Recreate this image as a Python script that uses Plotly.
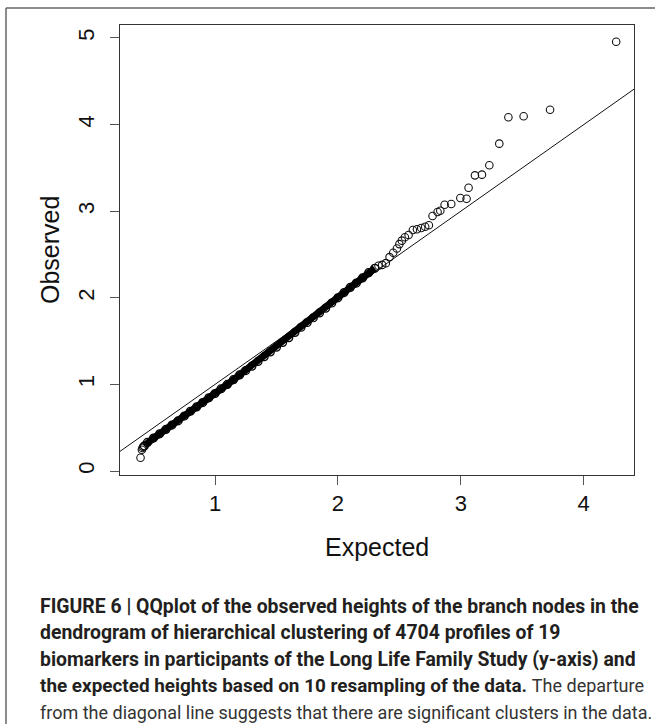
import plotly.graph_objects as go

# ---- data ----
# dense part of the Q-Q cloud (overlapping circles form a solid band)
band_expected = [0.425, 0.45, 0.50, 0.55, 0.60, 0.65, 0.70, 0.75, 0.80, 0.85, 0.90, 0.95,
                 1.00, 1.05, 1.10, 1.15, 1.20, 1.25, 1.30, 1.35, 1.40, 1.45, 1.50, 1.55,
                 1.60, 1.65, 1.70, 1.75, 1.80, 1.85, 1.90, 1.95, 2.00, 2.05, 2.10, 2.15,
                 2.20, 2.25, 2.30]
band_observed = [0.29, 0.33, 0.38, 0.43, 0.48, 0.53, 0.58, 0.635, 0.69, 0.74, 0.79, 0.845,
                 0.895, 0.95, 1.00, 1.055, 1.11, 1.16, 1.21, 1.265, 1.32, 1.375, 1.43, 1.485,
                 1.54, 1.60, 1.66, 1.715, 1.77, 1.825, 1.88, 1.94, 2.00, 2.06, 2.12, 2.17,
                 2.23, 2.29, 2.34]

# individually visible points
sparse_expected = [0.394, 0.405, 0.41, 0.415,
                   2.33, 2.36, 2.39, 2.42,
                   2.45, 2.48, 2.50, 2.52, 2.545, 2.575, 2.610, 2.643, 2.678, 2.710, 2.740,
                   2.770, 2.811, 2.833, 2.868, 2.922, 2.996, 3.047, 3.063, 3.115, 3.172,
                   3.232, 3.313, 3.387, 3.511, 3.726, 4.264]
sparse_observed = [0.154, 0.245, 0.265, 0.28,
                   2.37, 2.38, 2.40, 2.47,
                   2.52, 2.57, 2.62, 2.66, 2.70, 2.725, 2.783, 2.791, 2.806, 2.821, 2.837,
                   2.945, 2.991, 3.006, 3.075, 3.083, 3.152, 3.144, 3.271, 3.414, 3.422,
                   3.530, 3.780, 4.084, 4.096, 4.172, 4.957]

# reference diagonal (intercept 0, slope 1)
diag_x = [0, 5]
diag_y = [0, 5]

x_ticks = [1, 2, 3, 4]
y_ticks = [0, 1, 2, 3, 4, 5]

REG = "<span style='font-size:18px;color:#333'>{}</span>"
caption_lines = [
    "<b>FIGURE 6 | QQplot of the observed heights of the branch nodes in the</b>",
    "<b>dendrogram of hierarchical clustering of 4704 profiles of 19</b>",
    "<b>biomarkers in participants of the Long Life Family Study (y-axis) and</b>",
    "<b><span style='font-size:18.9px'>the expected heights based on 10 resampling of the data.</span></b> "
    + REG.format("The departure"),
    REG.format("from the diagonal line suggests that there are significant clusters in the data."),
]

FONT = "Liberation Sans, Arial, sans-serif"
CAP_FONT = "Roboto, Liberation Sans, sans-serif"

fig = go.Figure()
fig.add_trace(go.Scatter(x=diag_x, y=diag_y, mode="lines",
                         line=dict(color="#111", width=1), hoverinfo="skip"))
fig.add_trace(go.Scatter(x=band_expected, y=band_observed, mode="lines+markers",
                         line=dict(color="#000", width=7),
                         marker=dict(symbol="circle-open", size=8, color="#000",
                                     line=dict(width=1.2))))
fig.add_trace(go.Scatter(x=sparse_expected, y=sparse_observed, mode="markers",
                         marker=dict(symbol="circle-open", size=7.5, color="#111",
                                     line=dict(width=1.1)), cliponaxis=False))

L, R, T, B = 120, 21, 25, 249
W, H = 655, 724
pw, ph = W - L - R, H - T - B

def px_x(px):
    return (px - L) / pw

def px_y(py):
    return (H - B - py) / ph

axis_common = dict(showline=True, mirror=True, linecolor="#333", linewidth=1,
                   ticks="outside", ticklen=9, tickcolor="#555", tickwidth=1,
                   showgrid=False, zeroline=False,
                   tickfont=dict(family=FONT, size=22, color="#111"))

fig.update_xaxes(range=[0.227, 4.409], tickvals=x_ticks, ticktext=[str(v) for v in x_ticks],
                 ticklabelstandoff=0, **axis_common)
fig.update_yaxes(range=[-0.046, 5.150], tickvals=y_ticks, ticktext=[str(v) for v in y_ticks],
                 tickangle=-90, ticklabelstandoff=7, **axis_common)

annotations = [
    dict(text="Observed", x=px_x(50), y=0.5, xref="paper", yref="paper",
         textangle=-90, showarrow=False, xanchor="center", yanchor="middle",
         font=dict(family=FONT, size=25, color="#111")),
    dict(text="Expected", x=0.5, y=px_y(547), xref="paper", yref="paper",
         showarrow=False, xanchor="center", yanchor="middle",
         font=dict(family=FONT, size=25, color="#111")),
]
line_centres = [606, 632.5, 659, 685.5, 712]
for txt, cy in zip(caption_lines, line_centres):
    annotations.append(dict(text=txt, x=px_x(38), y=px_y(cy), xref="paper", yref="paper",
                            showarrow=False, xanchor="left", yanchor="middle", align="left",
                            font=dict(family=CAP_FONT, size=19.4, color="#231f20")))

frame = dict(color="#666", width=1.5)
fig.update_layout(
    width=W, height=H, margin=dict(l=L, r=R, t=T, b=B),
    paper_bgcolor="white", plot_bgcolor="white", showlegend=False,
    annotations=annotations,
    shapes=[
        dict(type="line", xref="paper", yref="paper", x0=px_x(6), x1=px_x(660),
             y0=px_y(8), y1=px_y(8), line=frame, layer="above"),
        dict(type="line", xref="paper", yref="paper", x0=px_x(6), x1=px_x(6),
             y0=px_y(8), y1=px_y(730), line=frame, layer="above"),
    ],
)

fig.write_html("out.html", config={"displayModeBar": False},
               post_script="document.body.style.margin='0px';document.body.style.overflow='hidden';")
